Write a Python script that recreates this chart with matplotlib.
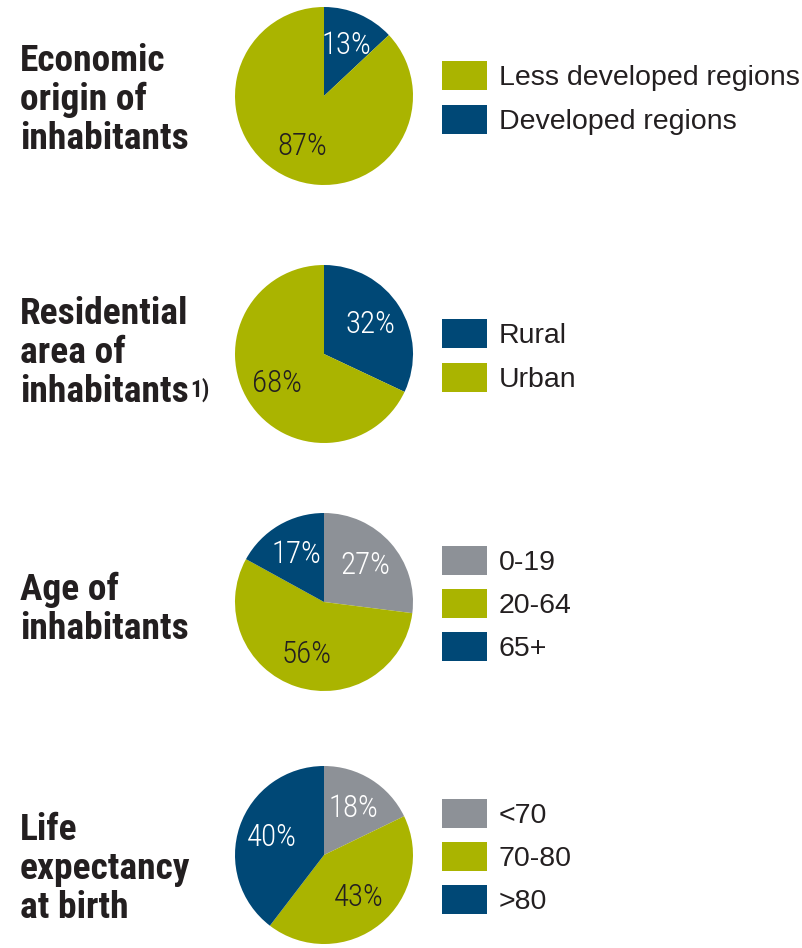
import matplotlib
matplotlib.use("Agg")
import matplotlib.pyplot as plt
from matplotlib import font_manager as fm
import numpy as np

# colours
green = "#AAB400"
blue = "#004876"
grey = "#8D9197"
dark = "#231F20"

# data, one row per pie (wedges go clockwise from 12 o'clock)
titles = ["Economic\norigin of\ninhabitants",
          "Residential\narea of\ninhabitants",
          "Age of\ninhabitants",
          "Life\nexpectancy\nat birth"]
econ_labels = ["Developed regions", "Less developed regions"]
econ_values = [13, 87]
area_labels = ["Rural", "Urban"]
area_values = [32, 68]
age_labels = ["0-19", "20-64", "65+"]
age_values = [27, 56, 17]
life_labels = ["<70", "70-80", ">80"]
life_values = [18, 43, 40]

labels = [econ_labels, area_labels, age_labels, life_labels]
values = [econ_values, area_values, age_values, life_values]
colors = [[blue, green], [blue, green], [grey, green, blue], [grey, green, blue]]
legend_order = [[1, 0], [0, 1], [0, 1, 2], [0, 1, 2]]

# layout in pixels
W, H = 802, 948
cx, r = 324, 89
row_cy = [96, 354, 602, 855]
title_cy = [100, 353, 609, 869]
leg_x = 442

# look for a condensed face, else plain Liberation Sans
avail = {(f.name, f.stretch) for f in fm.fontManager.ttflist}
names = {f.name for f in fm.fontManager.ttflist}
cond = dict(family=["Liberation Sans", "DejaVu Sans"], stretch="normal")
for nm in ["Liberation Sans Narrow", "Roboto Condensed", "Arial Narrow", "Open Sans Condensed"]:
    if nm in names:
        cond = dict(family=[nm, "DejaVu Sans"], stretch="normal")
        break
else:
    for nm in ["Noto Sans", "Roboto", "Open Sans", "DejaVu Sans"]:
        hit = [s for (n, s) in avail if n == nm and s in ("condensed", "semi-condensed")]
        if hit:
            cond = dict(family=[nm, "DejaVu Sans"], stretch=hit[0])
            break
regular = dict(family=["Liberation Sans", "DejaVu Sans"])

fig = plt.figure(figsize=(W / 100, H / 100), dpi=100)
fig.patch.set_facecolor("white")
rend = fig.canvas.get_renderer()


def fit(s, target, maxsize, **kw):
    t = fig.text(0, 0, s, fontsize=20, **kw)
    w = t.get_window_extent(rend).width
    t.remove()
    return min(maxsize, 20 * target / w)


def pitch(size, **kw):
    a = fig.text(0, 0, "A", fontsize=size, linespacing=1.0, **kw)
    b = fig.text(0, 0, "A\nA", fontsize=size, linespacing=1.0, **kw)
    p = b.get_window_extent(rend).height - a.get_window_extent(rend).height
    a.remove()
    b.remove()
    return p


title_size = fit("inhabitants", 168, 27, fontweight="bold", **cond)
title_ls = 40 / pitch(title_size, fontweight="bold", **cond)
pct_size = fit("87%", 50, 23, fontweight="light", **cond)

for i in range(4):
    cy = row_cy[i]
    ax = fig.add_axes([(cx - r) / W, 1 - (cy + r) / H, 2 * r / W, 2 * r / H])
    wedges, _ = ax.pie(values[i], colors=colors[i], startangle=90, counterclock=False,
                       radius=1, wedgeprops=dict(linewidth=0))
    ax.set_xlim(-1, 1)
    ax.set_ylim(-1, 1)
    ax.set_aspect("equal")
    ax.axis("off")

    for w, v, c in zip(wedges, values[i], colors[i]):
        ang = np.deg2rad((w.theta1 + w.theta2) / 2)
        tc = dark if c == green else "white"
        ax.text(0.62 * np.cos(ang), 0.62 * np.sin(ang), "%d%%" % v, ha="center", va="center",
                color=tc, fontsize=pct_size, fontweight="light", **cond)

    handles = [wedges[k] for k in legend_order[i]]
    names_i = [labels[i][k] for k in legend_order[i]]
    leg = ax.legend(handles, names_i, loc="center left", frameon=False,
                    bbox_to_anchor=(leg_x / W, 1 - (cy + 2) / H), bbox_transform=fig.transFigure,
                    prop=dict(size=20.5, **regular), handlelength=1.58, handleheight=1.19,
                    handletextpad=0.42, labelspacing=0.46, borderpad=0, borderaxespad=0)
    for t in leg.get_texts():
        t.set_color(dark)

    tt = fig.text(20 / W, 1 - title_cy[i] / H, titles[i], ha="left", va="center",
                  fontsize=title_size, fontweight="bold", color=dark, linespacing=title_ls, **cond)
    if i == 1:
        # footnote mark after "inhabitants"
        ax.annotate("1)", xy=(1, 0), xycoords=tt, xytext=(1, 10), textcoords="offset points",
                    ha="left", va="baseline", fontsize=title_size * 0.62, fontweight="bold",
                    color=dark, annotation_clip=False, **cond)

fig.savefig("out.png", dpi=100)
